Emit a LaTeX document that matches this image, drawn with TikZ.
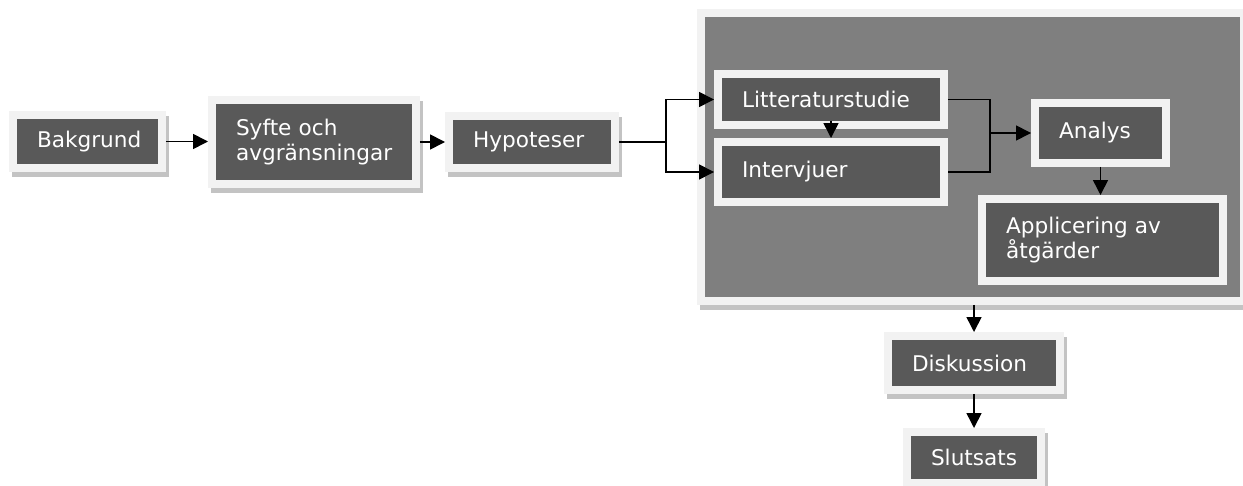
\documentclass[tikz,border=0pt]{standalone}
\usepackage{fontspec}
\setmainfont{DejaVu Sans}
\usetikzlibrary{arrows.meta}
\definecolor{boxdark}{HTML}{595959}
\definecolor{panelgray}{HTML}{7F7F7F}
\definecolor{framelight}{HTML}{F2F2F2}
\definecolor{shadowgray}{HTML}{C3C3C3}
\begin{document}
\begin{tikzpicture}[x=0.02cm, y=-0.02cm,
    framed/.style={preaction={draw=framelight, line width=0.32cm}},
    shadowed/.style={preaction={fill=shadowgray, draw=shadowgray, line width=0.32cm,
        transform canvas={shift={(0.06cm,-0.1cm)}}}},
    blk/.style={framed, fill=boxdark, text=white, align=left, inner xsep=0.4cm,
        inner ysep=0pt, outer sep=0.16cm, font=\fontsize{12.3pt}{14.5pt}\selectfont},
    arr/.style={-{Triangle[length=8.5pt,width=8.5pt]}, line width=0.9pt}]
\useasboundingbox (0,0) rectangle (1243,486);
% grey panel
\node[shadowed, framed, fill=panelgray, minimum width=10.7cm, minimum height=5.6cm,
    inner sep=0pt, outer sep=0.16cm] (grp) at (972.5,157) {};
% boxes
\node[shadowed, blk, text width=2.02cm, minimum height=0.9cm] (bak) at (87.5,141.5) {Bakgrund};
\node[shadowed, blk, text width=3.12cm, minimum height=1.52cm] (syf) at (314,142) {Syfte och\\avgränsningar};
\node[shadowed, blk, text width=2.36cm, minimum height=0.88cm] (hyp) at (532,142) {Hypoteser};
\node[blk, text width=3.56cm, minimum height=0.86cm] (lit) at (831,99.5) {Litteraturstudie};
\node[blk, text width=3.56cm, minimum height=1.04cm] (int) at (831,172) {Intervjuer};
\node[blk, text width=1.66cm, minimum height=1.04cm] (ana) at (1100.5,133) {Analys};
\node[blk, text width=3.86cm, minimum height=1.48cm] (app) at (1102.5,240) {Applicering av\\åtgärder};
\node[shadowed, blk, text width=2.48cm, minimum height=0.92cm] (dis) at (974,363) {Diskussion};
\node[shadowed, blk, text width=1.72cm, minimum height=0.86cm] (slu) at (974,457.5) {Slutsats};
% connectors
\coordinate (sp) at (666,142);
\coordinate (jn) at (990,133);
\draw[arr] (bak.east) -- (bak.east -| syf.west);
\draw[arr] (syf.east) -- (syf.east -| hyp.west);
\draw[line width=0.9pt] (hyp.east) -- (sp);
\draw[arr] (sp) |- (lit.west);
\draw[arr] (sp) |- (int.west);
\draw[arr] ([yshift=0.16cm]lit.south) -- (int.north);
\draw[line width=0.9pt] (lit.east) -| (jn) |- (int.east);
\draw[arr] (jn) -- (ana.west);
\draw[arr] (ana.south) -- (ana.south |- app.north);
\draw[arr] (grp.south -| dis.north) -- (dis.north);
\draw[arr] (dis.south) -- (slu.north);
\end{tikzpicture}
\end{document}
